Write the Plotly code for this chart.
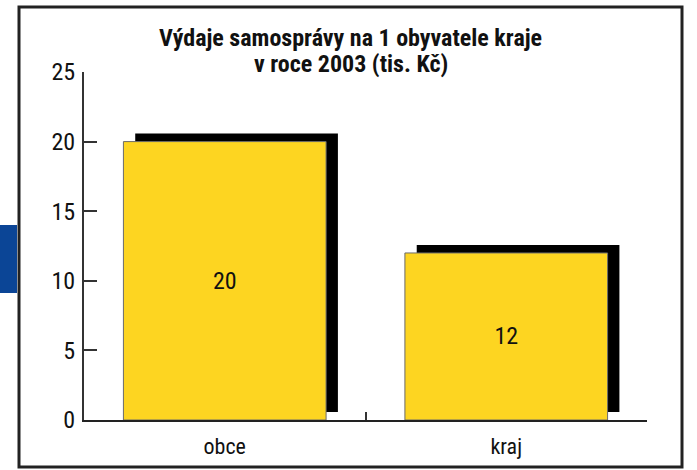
import plotly.graph_objects as go

categories = ["obce", "kraj"]
values = [20, 12]
title_line1 = "Výdaje samosprávy na 1 obyvatele kraje"
title_line2 = "v roce 2003 (tis. Kč)"
y_ticks = [0, 5, 10, 15, 20, 25]

FONT = "Roboto Condensed, DejaVu Sans Condensed, sans-serif"
W, H = 697, 470
L, R, T, B = 84, 50, 72, 50
pw, ph = W - L - R, H - T - B

def px(x):
    return (x - L) / pw

def py(y):
    return (H - B - y) / ph

fig = go.Figure()
# shadow bars
fig.add_trace(go.Bar(
    x=categories, y=values, base=0.575,
    offset=-0.318, width=0.72,
    marker=dict(color="#000000", line=dict(width=0)),
    hoverinfo="skip", showlegend=False,
))
# main bars
fig.add_trace(go.Bar(
    x=categories, y=values,
    offset=-0.36, width=0.72,
    marker=dict(color="#FDD521", line=dict(color="#6b6b6b", width=1)),
    text=[str(v) for v in values], textposition="inside",
    insidetextanchor="middle", textangle=0,
    textfont=dict(family=FONT, size=24, color="#111111"),
    showlegend=False, hoverinfo="skip",
))

fig.update_layout(
    width=W, height=H,
    margin=dict(l=L, r=R, t=T, b=B, pad=0),
    paper_bgcolor="white", plot_bgcolor="white",
    barmode="overlay",
    font=dict(family=FONT, color="#111111"),
    xaxis=dict(
        range=[-0.5, 1.5], showline=True, linecolor="#222222", linewidth=2,
        ticks="inside", ticklen=8, tickwidth=1.5, tickcolor="#333333",
        tickson="boundaries", showgrid=False, zeroline=False,
        ticklabelstandoff=6,
        tickfont=dict(family=FONT, size=22, color="#111111"),
    ),
    yaxis=dict(
        range=[0, 25], tickvals=y_ticks, showline=True, linecolor="#333333",
        linewidth=2, ticks="inside", ticklen=13, tickwidth=2, tickcolor="#333333",
        showgrid=False, zeroline=False, ticklabelstandoff=2,
        tickfont=dict(family=FONT, size=24, color="#111111"),
    ),
    annotations=[
        dict(text="<b>" + title_line1 + "</b>", xref="paper", yref="paper",
             x=px(350.5), y=py(38), xanchor="center", yanchor="middle",
             showarrow=False, font=dict(family=FONT, size=24, color="#111111")),
        dict(text="<b>" + title_line2 + "</b>", xref="paper", yref="paper",
             x=px(350.5), y=py(64), xanchor="center", yanchor="middle",
             showarrow=False, font=dict(family=FONT, size=24, color="#111111")),
    ],
    shapes=[
        dict(type="rect", xref="paper", yref="paper",
             x0=px(19), x1=px(682), y0=py(467), y1=py(7),
             line=dict(color="#222222", width=3), fillcolor="rgba(0,0,0,0)", layer="below"),
        dict(type="rect", xref="paper", yref="paper",
             x0=px(0), x1=px(17), y0=py(293), y1=py(225),
             line=dict(width=0), fillcolor="#0B4596", layer="below"),
    ],
)

fig.write_html("out.html", config={"displayModeBar": False},
               post_script="document.body.style.margin='0';")
